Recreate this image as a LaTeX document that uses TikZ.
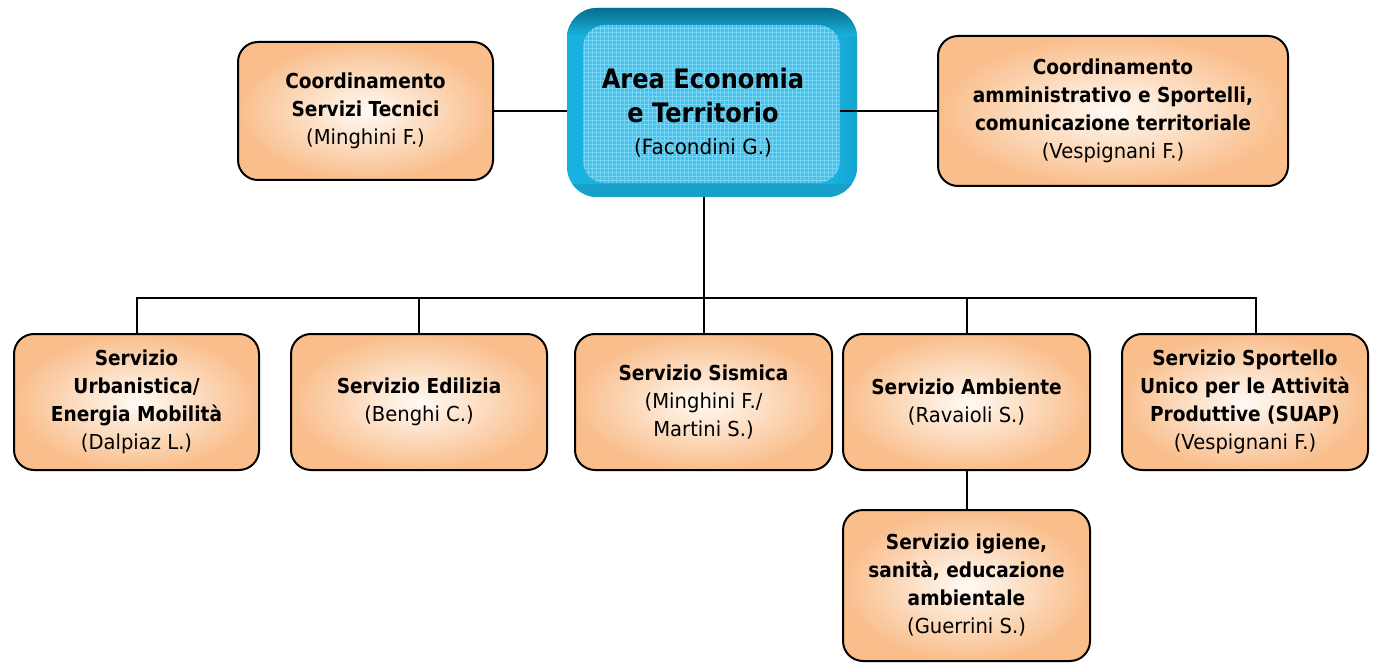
\documentclass[tikz,border=0pt]{standalone}
\usepackage{fontspec}
\setmainfont{DejaVu Sans}[FakeStretch=0.95,BoldFeatures={FakeStretch=0.9}]
\definecolor{peachout}{RGB}{249,190,140}
\definecolor{peachin}{RGB}{255,250,244}
\definecolor{cyanbody}{RGB}{24,178,224}
\definecolor{cyandark}{RGB}{8,110,140}
\definecolor{cyanface}{RGB}{62,196,238}
\tikzset{
  unitbox/.style={draw=black, line width=1pt, rounded corners=10pt,
    inner color=peachin, outer color=peachout, align=center,
    font=\fontsize{10.3}{14}\selectfont, inner sep=0pt},
  conn/.style={draw=black, line width=1pt}
}
\begin{document}
\begin{tikzpicture}[x=0.5pt,y=-0.5pt]
\useasboundingbox (0,0) rectangle (1375,663);
\fill[white] (0,0) rectangle (1375,663);
% centre box
\node[minimum width=145pt, minimum height=94.5pt, rounded corners=15pt, fill=cyanbody, inner sep=0pt] (cc) at (712,102.5) {};
\begin{scope}
  \clip[rounded corners=15pt] (567,8) rectangle (857,197);
  \shade[left color=cyanbody, right color=cyanbody!80!cyandark] (830,8) rectangle (857,197);
  \shade[top color=cyandark, bottom color=cyanbody] (567,8) rectangle (857,36);
  \fill[cyanbody!90!black] (567,184) rectangle (857,197);
\end{scope}
\node[minimum width=128.5pt, minimum height=79pt, rounded corners=11pt, fill=cyanface, inner sep=0pt] (ccf) at (711.5,104) {};
\begin{scope}
  \clip[rounded corners=11pt] (583,25) rectangle (840,183);
  \draw[white, opacity=0.3, line width=0.3pt, step=2pt] (583,25) grid (840,183);
\end{scope}
\node[align=center, inner sep=0pt, font=\fontsize{13.4}{17}\selectfont\bfseries] (cct) at (703,113)
  {Area Economia\\e Territorio\\[-1pt]\fontsize{10.5}{15}\selectfont\mdseries (Facondini G.)};
% top boxes
\node[unitbox, minimum width=127.5pt, minimum height=69pt] (ct) at (365.5,111)
  {{\bfseries Coordinamento}\\{\bfseries Servizi Tecnici}\\(Minghini F.)};
\node[unitbox, minimum width=175pt, minimum height=75pt] (cr) at (1113,111)
  {{\bfseries Coordinamento}\\{\bfseries amministrativo e Sportelli,}\\{\bfseries comunicazione territoriale}\\(Vespignani F.)};
% bottom boxes
\node[unitbox, minimum width=122.5pt, minimum height=68pt] (b1) at (136.5,402)
  {{\bfseries Servizio}\\{\bfseries Urbanistica/}\\{\bfseries Energia Mobilità}\\(Dalpiaz L.)};
\node[unitbox, minimum width=128pt, minimum height=68pt] (b2) at (419,402)
  {{\bfseries Servizio Edilizia}\\(Benghi C.)};
\node[unitbox, minimum width=128.5pt, minimum height=68pt] (b3) at (703.5,402)
  {{\bfseries Servizio Sismica}\\(Minghini F./\\Martini S.)};
\node[unitbox, minimum width=123.5pt, minimum height=68pt] (b4) at (966.5,402)
  {{\bfseries Servizio Ambiente}\\(Ravaioli S.)};
\node[unitbox, minimum width=123pt, minimum height=68pt] (b5) at (1245,402)
  {{\bfseries Servizio Sportello}\\{\bfseries Unico per le Attività}\\{\bfseries Produttive (SUAP)}\\(Vespignani F.)};
\node[unitbox, minimum width=123.5pt, minimum height=75.5pt] (b6) at (966.5,585.5)
  {{\bfseries Servizio igiene,}\\{\bfseries sanità, educazione}\\{\bfseries ambientale}\\(Guerrini S.)};
% connectors
\coordinate (bus) at (703,298);
\coordinate (d5) at (1256,298);
\draw[conn] (ct.east) -- (cc.west |- ct.east);
\draw[conn] (ccf.east |- cr.west) -- (cr.west);
\draw[conn] (cc.south -| b3.north) -- (b3.north);
\draw[conn] (b1.north) -- (b1.north |- bus) -- (d5) -- (d5 |- b5.north);
\draw[conn] (b2.north |- bus) -- (b2.north);
\draw[conn] (b4.north |- bus) -- (b4.north);
\draw[conn] (b4.south) -- (b6.north);
\end{tikzpicture}
\end{document}
